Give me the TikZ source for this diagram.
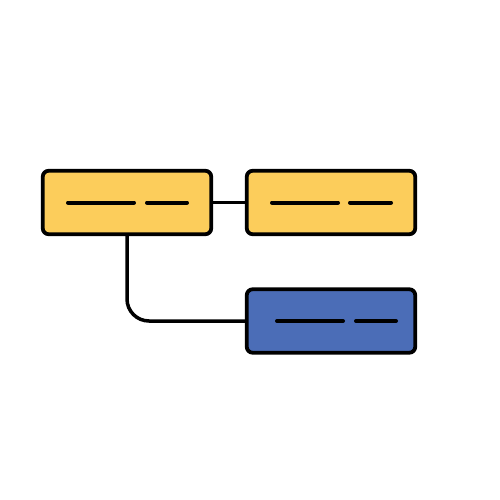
\documentclass[tikz,border=0pt]{standalone}
\definecolor{boxyellow}{HTML}{FCCD5B}
\definecolor{boxblue}{HTML}{4B6DB7}
\begin{document}
\begin{tikzpicture}[x=1pt,y=-1pt,
  card/.style={draw=black,line width=3.8pt,rounded corners=6pt,minimum width=168.5pt,minimum height=63.5pt,inner sep=0pt},
  bar/.style={line width=4pt,line cap=round},
  link/.style={line width=3.5pt}]
\fill[white] (0,0) rectangle (500,500);
\useasboundingbox (0,0) rectangle (500,500);
\node[card,fill=boxyellow] (A) at (127,202.5) {};
\node[card,fill=boxyellow] (B) at (331,202.5) {};
\node[card,fill=boxblue] (C) at (331,321) {};
\draw[link] (A.east) -- (B.west);
\draw[link,rounded corners=22pt] (A.south) |- (C.west);
\draw[bar] ([xshift=-59pt]A.center) -- ([xshift=7pt]A.center);
\draw[bar] ([xshift=20pt]A.center) -- ([xshift=60pt]A.center);
\draw[bar] ([xshift=-59pt]B.center) -- ([xshift=7pt]B.center);
\draw[bar] ([xshift=19pt]B.center) -- ([xshift=60pt]B.center);
\draw[bar] ([xshift=-54pt]C.center) -- ([xshift=12pt]C.center);
\draw[bar] ([xshift=25pt]C.center) -- ([xshift=65pt]C.center);
\end{tikzpicture}
\end{document}
